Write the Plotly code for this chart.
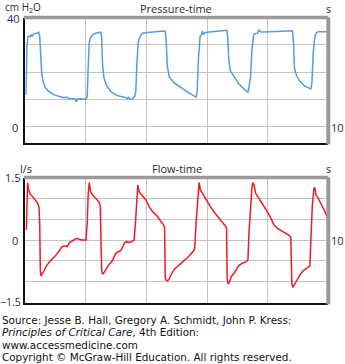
import plotly.graph_objects as go

W, H = 345, 364

# ---- data ----
p_time = [0.022, 0.033, 0.055, 0.088, 0.144, 0.177, 0.199, 0.232, 0.276, 0.365, 0.442, 0.475, 0.508, 0.541,
          0.586, 0.663, 0.773, 0.939, 1.105, 1.271, 1.381, 1.459, 1.547, 1.657, 1.680, 1.724, 1.823, 1.934,
          2.011, 2.044, 2.077, 2.110, 2.155, 2.232, 2.320, 2.431, 2.486, 2.519, 2.552, 2.597, 2.685, 2.818,
          2.983, 3.149, 3.315, 3.370, 3.403, 3.459, 3.536, 3.613, 3.646, 3.680, 3.724, 3.790, 3.867, 4.033,
          4.254, 4.475, 4.619, 4.652, 4.685, 4.751, 4.917, 5.138, 5.359, 5.635, 5.669, 5.713, 5.768, 5.823,
          5.845, 5.878, 5.934, 6.077, 6.243, 6.409, 6.575, 6.652, 6.685, 6.718, 6.773, 6.884, 7.039, 7.215,
          7.348, 7.370, 7.403, 7.436, 7.481, 7.536, 7.591, 7.657, 7.713, 7.768, 7.901, 8.122, 8.343, 8.564,
          8.818, 8.851, 8.884, 8.950, 9.061, 9.227, 9.425, 9.459, 9.503, 9.558, 9.613, 9.669, 9.757, 9.834,
          10.0]
pressure = [11.7, 22.2, 29.5, 33.0, 33.2, 33.0, 33.8, 33.2, 34.0, 34.2, 34.6, 33.2, 24.6, 19.7,
            16.6, 14.2, 12.9, 11.7, 11.1, 10.6, 10.7, 10.2, 10.2, 10.1, 9.1, 10.1, 10.2, 10.0,
            10.2, 11.1, 22.2, 30.8, 32.6, 33.8, 34.2, 34.5, 34.6, 33.2, 22.2, 17.8, 15.0, 12.9,
            11.6, 11.0, 10.7, 10.2, 10.7, 10.0, 10.2, 11.1, 12.9, 22.2, 30.8, 33.2, 34.2, 34.5,
            34.8, 35.0, 35.0, 30.8, 22.2, 18.2, 16.0, 14.2, 12.6, 10.8, 12.3, 24.6, 33.0, 33.8,
            35.1, 33.8, 34.5, 34.7, 34.8, 35.1, 35.2, 35.3, 32.0, 24.0, 20.3, 18.2, 15.8, 13.8,
            12.6, 13.5, 17.2, 18.5, 28.3, 33.5, 34.1, 34.2, 35.4, 34.8, 34.7, 34.8, 35.0, 35.1,
            35.1, 30.8, 21.5, 18.7, 16.6, 14.8, 13.8, 16.0, 27.1, 33.2, 34.5, 34.8, 34.8, 34.8,
            34.8]

f_time = [0.033, 0.055, 0.077, 0.110, 0.166, 0.243, 0.331, 0.409, 0.453, 0.475, 0.497, 0.519, 0.586, 0.696,
          0.829, 0.994, 1.138, 1.215, 1.326, 1.381, 1.459, 1.547, 1.624, 1.691, 1.768, 1.878, 2.000, 2.044,
          2.077, 2.110, 2.155, 2.243, 2.354, 2.442, 2.475, 2.497, 2.519, 2.552, 2.619, 2.729, 2.873, 2.983,
          3.061, 3.149, 3.238, 3.282, 3.348, 3.425, 3.514, 3.591, 3.635, 3.680, 3.713, 3.757, 3.867, 3.978,
          4.088, 4.199, 4.343, 4.475, 4.564, 4.597, 4.608, 4.619, 4.663, 4.729, 4.807, 4.917, 5.138, 5.359,
          5.558, 5.591, 5.635, 5.691, 5.735, 5.779, 5.856, 5.967, 6.110, 6.243, 6.409, 6.552, 6.641, 6.652,
          6.663, 6.696, 6.740, 6.796, 6.906, 7.039, 7.149, 7.293, 7.348, 7.381, 7.436, 7.481, 7.514, 7.547,
          7.602, 7.735, 7.901, 8.066, 8.210, 8.320, 8.508, 8.696, 8.762, 8.785, 8.796, 8.829, 8.873, 8.950,
          9.061, 9.171, 9.282, 9.392, 9.425, 9.470, 9.525, 9.558, 9.591, 9.669, 9.779, 9.890, 10.0]
flow = [0.24, 0.96, 1.38, 1.20, 1.10, 1.04, 0.96, 0.88, 0.78, 0.40, -0.76, -0.86, -0.78, -0.62,
        -0.50, -0.38, -0.24, -0.16, -0.14, -0.16, -0.06, -0.02, 0.00, 0.04, 0.02, 0.00, 0.00, 0.40,
        1.12, 1.38, 1.16, 1.06, 0.98, 0.90, 0.80, 0.00, -0.72, -0.82, -0.76, -0.62, -0.50, -0.32,
        -0.28, -0.26, -0.12, -0.06, -0.04, -0.06, -0.04, 0.00, 0.40, 1.12, 1.32, 1.16, 1.06, 0.96,
        0.80, 0.68, 0.58, 0.46, 0.36, 0.30, -0.32, -0.92, -0.98, -0.96, -0.84, -0.70, -0.56, -0.42,
        -0.26, -0.20, 0.40, 1.04, 1.38, 1.20, 1.10, 0.96, 0.80, 0.66, 0.52, 0.40, 0.30, -0.32,
        -0.96, -1.06, -1.00, -0.88, -0.78, -0.62, -0.56, -0.52, -0.48, 0.16, 0.88, 1.28, 1.38, 1.32,
        1.12, 0.98, 0.78, 0.58, 0.36, 0.28, 0.20, 0.12, 0.06, -0.40, -1.04, -1.14, -1.08, -0.96,
        -0.84, -0.74, -0.68, -0.62, 0.00, 0.80, 1.24, 1.26, 1.08, 1.00, 0.84, 0.68, 0.48]

p_range = [-5.87, 40]
f_range = [-1.5, 1.5]

# ---- layout helpers (pixel -> paper) ----
def px(x):
    return x / W

def py(y):
    return 1 - y / H

X0, X1 = 25.3, 328.3
P_TOP, P_BOT = 17.5, 142.5
F_TOP, F_BOT = 177.5, 302.5

fig = go.Figure()
fig.add_trace(go.Scatter(x=p_time, y=pressure, mode="lines", xaxis="x", yaxis="y",
                         line=dict(color="#5b9bd5", width=1.5), hoverinfo="skip"))
fig.add_trace(go.Scatter(x=f_time, y=flow, mode="lines", xaxis="x2", yaxis="y2",
                         line=dict(color="#ec1c24", width=1.5), hoverinfo="skip"))

grid = dict(showgrid=True, gridcolor="#c4c4c4", gridwidth=1, showticklabels=False, ticks="",
            zeroline=False, showline=True, linecolor="#111111", linewidth=1.5, fixedrange=True)

fig.update_layout(
    width=W, height=H, margin=dict(l=0, r=0, t=0, b=0),
    paper_bgcolor="white", plot_bgcolor="white", showlegend=False,
    xaxis=dict(domain=[px(X0), px(X1)], range=[0, 10], tick0=0, dtick=2, anchor="y", **grid),
    yaxis=dict(domain=[py(P_BOT), py(P_TOP)], range=p_range, tick0=0, dtick=10, anchor="x", **grid),
    xaxis2=dict(domain=[px(X0), px(X1)], range=[0, 10], tick0=0, dtick=2, anchor="y2", **grid),
    yaxis2=dict(domain=[py(F_BOT), py(F_TOP)], range=f_range, tick0=0, dtick=0.5, anchor="x2", **grid),
)

# gray frame (top and right)
shapes = []
for xr, yr in (("x domain", "y domain"), ("x2 domain", "y2 domain")):
    shapes.append(dict(type="line", xref=xr, yref=yr, x0=-0.005, x1=1.0, y0=1.0, y1=1.0,
                       line=dict(color="#9a9a9a", width=3.5)))
    shapes.append(dict(type="line", xref=xr, yref=yr, x0=1.0, x1=1.0, y0=-0.015, y1=1.0,
                       line=dict(color="#9a9a9a", width=4)))
fig.update_layout(shapes=shapes)

LBL = "Open Sans"
NUM = "#1e2a55"
TXT = "#2a2a2a"
ann = []

def txt(x, y, s, xanchor="center", size=11, color=TXT, family=LBL, yanchor="middle"):
    ann.append(dict(x=px(x), y=py(y), xref="paper", yref="paper", text=s, showarrow=False,
                    xanchor=xanchor, yanchor=yanchor, borderpad=0,
                    font=dict(family=family, size=size, color=color)))

txt(23, -1, "cm H<sub>2</sub>O", size=10, yanchor="top")
txt(21, 18.5, "40", "right", color=NUM)
txt(19, 127, "0", "right", color=NUM)
txt(176, 8, "Pressure-time")
txt(328, 8, "s")
txt(345, 127, "10", "right", color=NUM)

txt(26, 168, "l/s")
txt(21, 177.5, "1.5", "right", color=NUM)
txt(19, 240, "0", "right", color=NUM)
txt(21.5, 302, "\u22121.5", "right", size=10.5, color=NUM)
txt(177, 168, "Flow-time")
txt(328, 168, "s")
txt(345, 240, "10", "right", color=NUM)

src = [
    "Source: Jesse B. Hall, Gregory A. Schmidt, John P. Kress:",
    "<i>Principles of Critical Care</i>, 4th Edition:",
    "www.accessmedicine.com",
    "Copyright \u00a9 McGraw-Hill Education. All rights reserved.",
]
for i, line in enumerate(src):
    txt(0.5, 319.5 + i * 12.6, line, "left", size=10.4, color="#111111", family="DejaVu Sans")

fig.update_layout(annotations=ann)
fig.write_html("out.html")
